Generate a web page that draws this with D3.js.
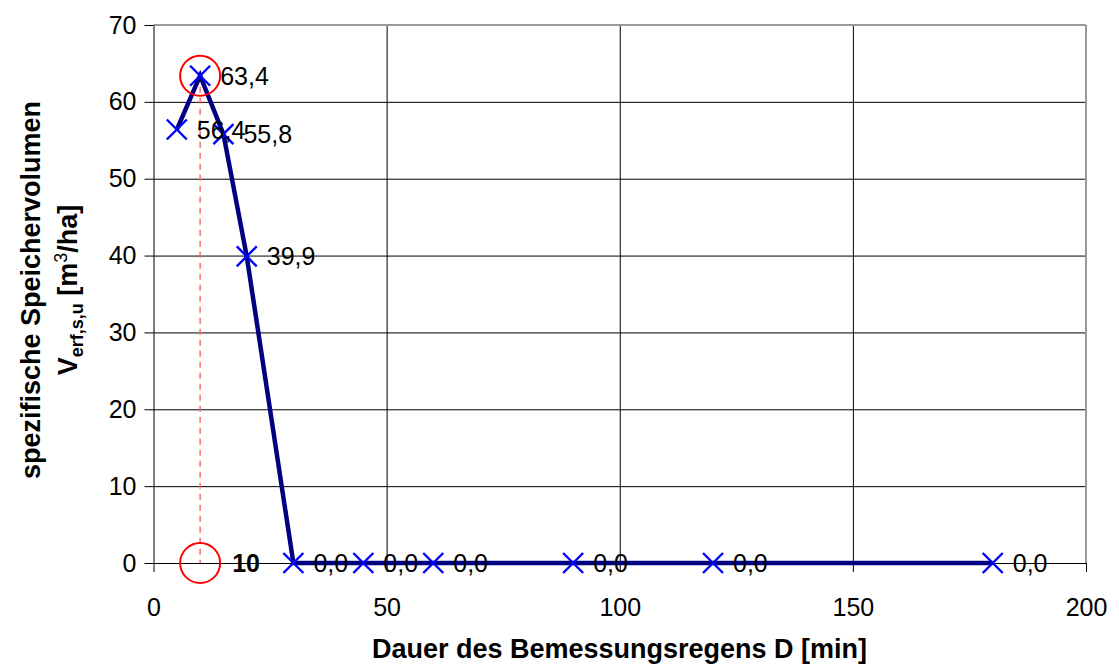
<!DOCTYPE html>
<html>
<head>
<meta charset="utf-8">
<script src="https://cdn.jsdelivr.net/npm/d3@7"></script>
<style>
  body { margin: 0; background: #fff; }
  text { font-family: Arial, "Liberation Sans", sans-serif; }
  .grid line { stroke: #000; stroke-width: 1; }
  .grid path { display: none; }
  .axis text { font-size: 25px; fill: #000; font-family: Arial, "Liberation Sans", sans-serif; }
  .axis path, .axis line { stroke: #000; }
</style>
</head>
<body>
<div id="chart"></div>
<script>
// data
var durations = [5, 10, 15, 20, 30, 45, 60, 90, 120, 180];
var volumes = [56.4, 63.4, 55.8, 39.9, 0, 0, 0, 0, 0, 0];
var xTicks = [0, 50, 100, 150, 200];
var yTicks = [0, 10, 20, 30, 40, 50, 60, 70];
var maxDuration = 10;
var maxVolume = 63.4;

var margin = { top: 25, right: 33, bottom: 101, left: 153.5 },
    width = 1119 - margin.left - margin.right,
    height = 664 - margin.top - margin.bottom;

var svg = d3.select("#chart")
    .append("svg")
    .attr("width", 1119)
    .attr("height", 664)
    .append("g")
    .attr("transform", "translate(" + margin.left + "," + margin.top + ")");

var x = d3.scaleLinear().domain([0, 200]).range([0, width]);
var y = d3.scaleLinear().domain([0, 70]).range([height, 0]);

var fmt = function (v) { return d3.format(".1f")(v).replace(".", ","); };

// gridlines
svg.append("g")
    .attr("class", "grid")
    .attr("transform", "translate(0," + height + ")")
    .call(d3.axisBottom(x).tickValues(xTicks.slice(1, -1)).tickSize(-height).tickFormat(""));
svg.append("g")
    .attr("class", "grid")
    .call(d3.axisLeft(y).tickValues(yTicks.slice(1, -1)).tickSize(-width).tickFormat(""));

// plot frame (top/right in gray)
svg.append("line").attr("x1", 0).attr("x2", width).attr("y1", 0).attr("y2", 0)
    .attr("stroke", "#999").attr("stroke-width", 2);
svg.append("line").attr("x1", width).attr("x2", width).attr("y1", 0).attr("y2", height)
    .attr("stroke", "#999").attr("stroke-width", 2);

// axes
svg.append("g")
    .attr("class", "axis")
    .attr("transform", "translate(0," + height + ")")
    .call(d3.axisBottom(x).tickValues(xTicks).tickSize(9).tickPadding(26).tickSizeOuter(0))
    .call(function (g) { g.selectAll("text").attr("dy", "0.71em"); });
svg.append("g")
    .attr("class", "axis")
    .call(d3.axisLeft(y).tickValues(yTicks).tickSize(9).tickPadding(8).tickSizeOuter(0));

// dashed marker line for maximum
svg.append("line")
    .attr("x1", x(maxDuration)).attr("x2", x(maxDuration))
    .attr("y1", y(maxVolume)).attr("y2", y(0))
    .attr("stroke", "#ff6b6b").attr("stroke-width", 1.5)
    .attr("stroke-dasharray", "6,5");

// data line
var pts = durations.map(function (d, i) { return [d, volumes[i]]; });
svg.append("path")
    .datum(pts)
    .attr("fill", "none")
    .attr("stroke", "#000080")
    .attr("stroke-width", 4.5)
    .attr("d", d3.line().x(function (d) { return x(d[0]); }).y(function (d) { return y(d[1]); }));

// red circles
[[maxDuration, maxVolume], [maxDuration, 0]].forEach(function (p) {
    svg.append("circle")
        .attr("cx", x(p[0])).attr("cy", y(p[1])).attr("r", 20)
        .attr("fill", "none").attr("stroke", "#ff0000").attr("stroke-width", 2);
});

// X markers
var s = 10;
svg.append("g").selectAll("path.mk")
    .data(pts)
    .enter()
    .append("path")
    .attr("class", "mk")
    .attr("d", function (d) {
        var cx = x(d[0]), cy = y(d[1]);
        return "M" + (cx - s) + "," + (cy - s) + "L" + (cx + s) + "," + (cy + s) +
            "M" + (cx - s) + "," + (cy + s) + "L" + (cx + s) + "," + (cy - s);
    })
    .attr("stroke", "#0000ff")
    .attr("stroke-width", 2.4)
    .attr("fill", "none");

// value labels
svg.append("g").selectAll("text")
    .data(pts)
    .enter()
    .append("text")
    .attr("x", function (d) { return x(d[0]) + 20; })
    .attr("y", function (d) { return y(d[1]); })
    .attr("dy", "0.36em")
    .style("font-size", "25px")
    .text(function (d) { return fmt(d[1]); });

// max duration label
svg.append("text")
    .attr("x", x(maxDuration) + 32)
    .attr("y", y(0))
    .attr("dy", "0.36em")
    .style("font-size", "25px")
    .style("font-weight", "bold")
    .text(maxDuration);

// x axis title
svg.append("text")
    .attr("x", 466)
    .attr("y", height + 95)
    .style("text-anchor", "middle")
    .style("font-size", "27px")
    .style("font-weight", "bold")
    .text("Dauer des Bemessungsregens D [min]");

// y axis title (two lines)
var yt = svg.append("text")
    .attr("transform", "translate(" + (-114) + "," + (height / 2 - 4) + ") rotate(-90)")
    .style("text-anchor", "middle")
    .style("font-size", "27px")
    .style("font-weight", "bold");
yt.append("tspan").attr("x", 0).attr("dy", 0).text("spezifische Speichervolumen");
var l2 = yt.append("tspan").attr("x", 0).attr("dy", 37);
l2.append("tspan").text("V");
l2.append("tspan").attr("dy", 6).style("font-size", "18px").text("erf,s,u");
l2.append("tspan").attr("dy", -6).text(" [m");
l2.append("tspan").attr("dy", -10).style("font-size", "18px").style("font-weight", "normal").text("3");
l2.append("tspan").attr("dy", 10).text("/ha]");
</script>
</body>
</html>
